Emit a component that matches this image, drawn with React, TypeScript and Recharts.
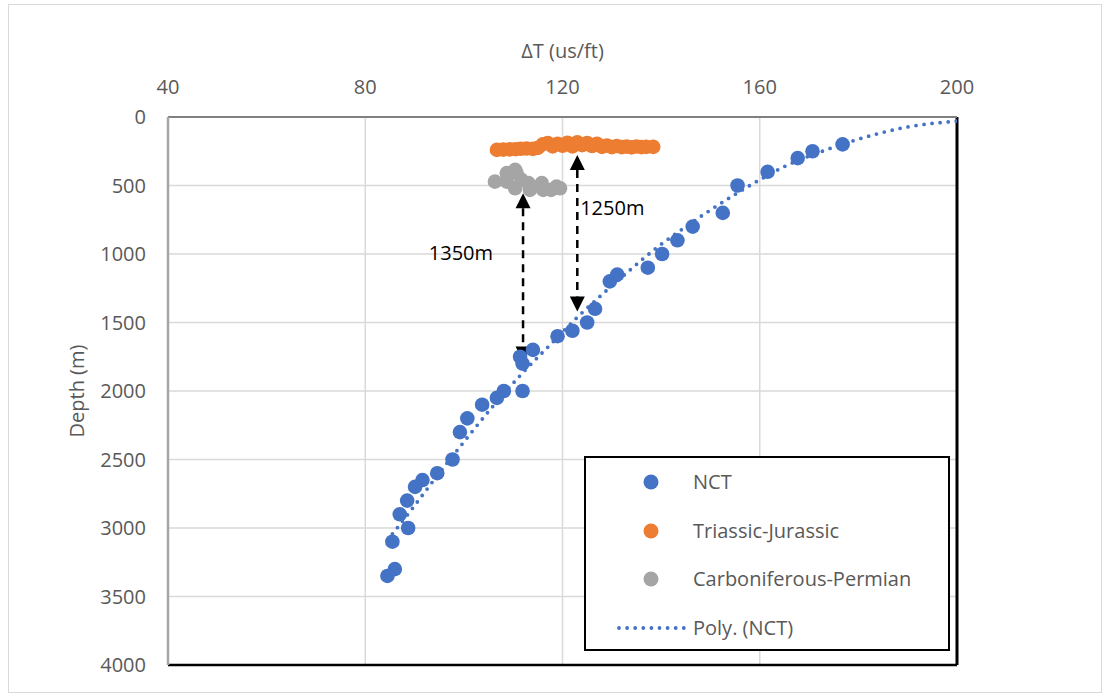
import {
  ComposedChart,
  Scatter,
  Line,
  XAxis,
  YAxis,
  CartesianGrid,
  Legend,
  ReferenceLine,
  ReferenceDot,
} from "recharts";

const FONT = '"Open Sans", sans-serif';
const TXT = "#595959";

const xTicks = [40, 80, 120, 160, 200];
const yTicks = [0, 500, 1000, 1500, 2000, 2500, 3000, 3500, 4000];

const seriesNames = ["NCT", "Triassic-Jurassic", "Carboniferous-Permian", "Poly. (NCT)"];

// [ΔT (us/ft), depth (m)]
const nct: [number, number][] = [
  [176.8, 200], [170.7, 250], [167.7, 300], [161.6, 400], [155.5, 500],
  [152.5, 700], [146.4, 800], [143.3, 900], [140.2, 1000], [137.3, 1100],
  [131.1, 1150], [129.6, 1200], [126.6, 1400], [125.0, 1500], [122.0, 1560],
  [119.0, 1600], [114.0, 1700], [111.4, 1750], [111.9, 1800], [111.9, 2000],
  [108.1, 2000], [106.7, 2050], [103.7, 2100], [100.7, 2200], [99.2, 2300],
  [97.7, 2500], [94.6, 2600], [91.6, 2650], [90.1, 2700], [88.5, 2800],
  [87.0, 2900], [88.7, 3000], [85.5, 3100], [86.0, 3300], [84.5, 3350],
];

const triassic: [number, number][] = [
  [106.7, 240], [108.0, 238], [109.3, 236], [110.5, 235], [111.5, 232],
  [112.7, 230], [114.0, 233], [115.0, 225], [116.0, 200], [117.0, 190],
  [118.0, 215], [119.0, 195], [120.0, 210], [121.0, 188], [122.0, 215],
  [123.0, 185], [124.0, 205], [125.0, 190], [126.0, 212], [127.0, 195],
  [128.0, 218], [129.0, 208], [130.0, 220], [131.0, 212], [132.0, 220],
  [133.0, 216], [134.0, 222], [135.0, 215], [136.0, 220], [137.0, 218],
  [138.4, 218],
];

const carboniferous: [number, number][] = [
  [106.3, 472], [108.7, 472], [108.7, 410], [110.4, 386], [110.7, 410],
  [111.7, 459], [110.4, 520], [113.1, 483], [113.4, 532], [115.8, 483],
  [116.1, 532], [117.7, 532], [118.8, 508], [119.5, 520],
];

// dotted polynomial trendline
const trend: [number, number][] = [
  [84.5, 3090], [89.4, 2865], [93.5, 2670], [98.5, 2440], [106.0, 2107],
  [111.6, 1880], [117.3, 1670], [123.2, 1455], [128.2, 1290], [133.2, 1132],
  [139.8, 935], [143.6, 836], [149.2, 698], [154.8, 569], [160.4, 450],
  [165.1, 360], [172.7, 250], [179.0, 173], [190.1, 72], [200.0, 30],
];

const toPts = (arr: [number, number][]) => arr.map(([x, y]) => ({ x, y }));

const dot = (color: string) => (p: any) => (
  <circle cx={p.cx} cy={p.cy} r={7.3} fill={color} />
);

const DoubleArrow = (p: any) => {
  const { x1, y1, x2, y2 } = p;
  const h = 15;
  const w = 7.5;
  return (
    <g>
      <line x1={x1} y1={y1 + h} x2={x2} y2={y2 - h} stroke="#000" strokeWidth={2.5} strokeDasharray="8 6" />
      <polygon points={`${x1},${y1} ${x1 - w},${y1 + h} ${x1 + w},${y1 + h}`} fill="#000" />
      <polygon points={`${x2},${y2} ${x2 - w},${y2 - h} ${x2 + w},${y2 - h}`} fill="#000" />
    </g>
  );
};

const renderLegend = (props: any) => {
  const payload = [...(props.payload ?? [])].sort(
    (a: any, b: any) => seriesNames.indexOf(a.value) - seriesNames.indexOf(b.value)
  );
  return (
    <div
      style={{
        boxSizing: "border-box",
        width: 366,
        height: 195,
        border: "2px solid #000",
        background: "#fff",
      }}
    >
      {payload.map((p: any) => (
        <div key={p.value} style={{ height: 48.5, display: "flex", alignItems: "center" }}>
          <svg width={107} height={20} style={{ flex: "none" }}>
            {p.type === "line" ? (
              <line x1={33} y1={10} x2={100} y2={10} stroke={p.color} strokeWidth={3.8} strokeDasharray="0 8.1" strokeLinecap="round" />
            ) : (
              <circle cx={65} cy={10} r={7.5} fill={p.color} />
            )}
          </svg>
          <span style={{ fontFamily: FONT, fontSize: 20, color: TXT, lineHeight: 1 }}>{p.value}</span>
        </div>
      ))}
    </div>
  );
};

export default function App() {
  return (
    <div style={{ position: "absolute", left: 0, top: 0, width: 1109, height: 697, background: "#fff" }}>
      <div
        style={{
          position: "absolute",
          left: 8,
          top: 4,
          width: 1092,
          height: 687,
          border: "1px solid #d9d9d9",
        }}
      />
      <div style={{ position: "absolute", left: 0, top: 0 }}>
        <ComposedChart width={1109} height={697} margin={{ top: 37, right: 152, bottom: 32, left: 78 }}>
          <CartesianGrid stroke="#d9d9d9" strokeWidth={1.5} />
          <XAxis
            type="number"
            dataKey="x"
            orientation="top"
            domain={[40, 200]}
            ticks={xTicks}
            interval={0}
            allowDataOverflow
            height={80}
            tickSize={0}
            tickMargin={23}
            tickLine={false}
            axisLine={{ stroke: "#808080", strokeWidth: 2 }}
            tick={{ fill: TXT, fontSize: 20, fontFamily: FONT }}
            label={{
              content: () => (
                <text x={562.5} y={58} textAnchor="middle" fill={TXT} fontSize={20} fontFamily={FONT}>
                  ΔT (us/ft)
                </text>
              ),
            }}
          />
          <YAxis
            type="number"
            dataKey="y"
            reversed
            domain={[0, 4000]}
            ticks={yTicks}
            interval={0}
            allowDataOverflow
            width={90}
            tickSize={0}
            tickMargin={22}
            tickLine={false}
            axisLine={{ stroke: "#a6a6a6", strokeWidth: 2.5 }}
            tick={{ fill: TXT, fontSize: 20, fontFamily: FONT }}
            label={{
              content: () => (
                <text
                  x={84}
                  y={391}
                  transform="rotate(-90 84 391)"
                  textAnchor="middle"
                  fill={TXT}
                  fontSize={20}
                  fontFamily={FONT}
                >
                  Depth (m)
                </text>
              ),
            }}
          />
          <ReferenceLine x={200} stroke="#000" strokeWidth={3} />
          <ReferenceLine y={4000} stroke="#000" strokeWidth={2.5} />
          <Scatter name="NCT" data={toPts(nct)} fill="#4472C4" shape={dot("#4472C4")} isAnimationActive={false} />
          <Scatter name="Triassic-Jurassic" data={toPts(triassic)} fill="#ED7D31" shape={dot("#ED7D31")} isAnimationActive={false} />
          <Scatter name="Carboniferous-Permian" data={toPts(carboniferous)} fill="#A5A5A5" shape={dot("#A5A5A5")} isAnimationActive={false} />
          <Line
            name="Poly. (NCT)"
            data={toPts(trend)}
            dataKey="y"
            type="monotone"
            stroke="#4472C4"
            strokeWidth={3.8}
            strokeDasharray="0 8.1"
            strokeLinecap="round"
            dot={false}
            activeDot={false}
            legendType="line"
            isAnimationActive={false}
          />
          <ReferenceLine segment={[{ x: 112, y: 556 }, { x: 112, y: 1784 }]} shape={DoubleArrow} />
          <ReferenceLine segment={[{ x: 123, y: 277 }, { x: 123, y: 1419 }]} shape={DoubleArrow} />
          <ReferenceDot
            x={99.4}
            y={991}
            r={0}
            fill="none"
            stroke="none"
            label={{ value: "1350m", position: "center", fill: "#000", fontSize: 20, fontFamily: FONT }}
          />
          <ReferenceDot
            x={130.1}
            y={667}
            r={0}
            fill="none"
            stroke="none"
            label={{ value: "1250m", position: "center", fill: "#000", fontSize: 20, fontFamily: FONT }}
          />
          <Legend
            layout="horizontal"
            verticalAlign="middle"
            align="center"
            wrapperStyle={{ left: 584, top: 456, width: 366, height: 195 }}
            content={renderLegend}
          />
        </ComposedChart>
      </div>
    </div>
  );
}
